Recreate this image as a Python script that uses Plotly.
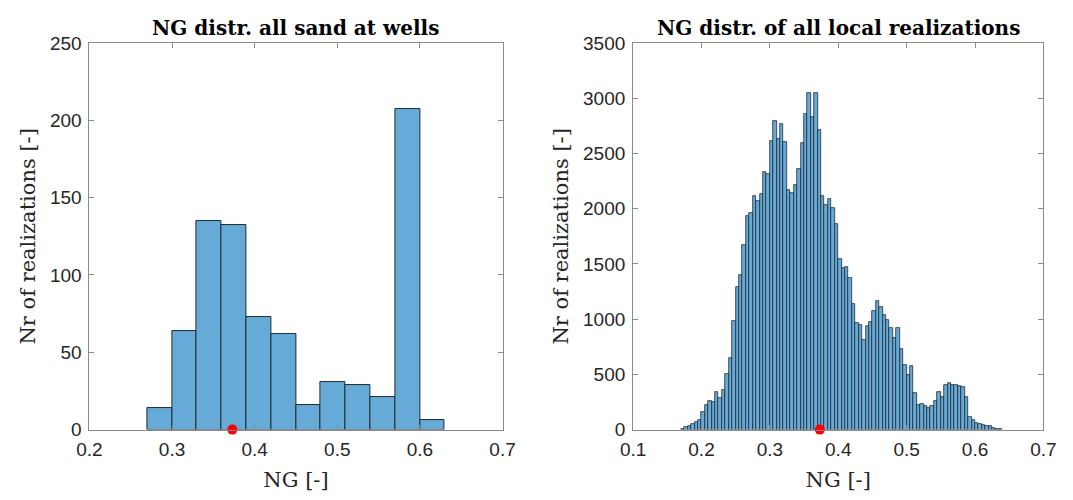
import plotly.graph_objects as go

# ---- data ----
# Left panel: NG distribution of all sand at wells
wells_bin_start = 0.27
wells_bin_width = 0.03
wells_counts = [14, 64, 135, 132, 73, 62, 16, 31, 29, 21, 207, 6]

# Right panel: NG distribution of all local realizations
local_bin_start = 0.17
local_bin_width = 0.005
local_counts = [
    6, 27, 33, 50, 72, 88, 158, 225, 260, 253,
    338, 286, 362, 505, 650, 981, 1291, 1395, 1667, 1936,
    1959, 2115, 2066, 2133, 2333, 2315, 2610, 2790, 2631, 2767,
    2602, 2168, 2139, 2214, 2362, 2599, 2854, 3045, 2827, 3050,
    2709, 2118, 2032, 2089, 2008, 1864, 1543, 1464, 1473, 1372,
    1137, 967, 943, 813, 935, 978, 1074, 1160, 1108, 1039,
    996, 917, 833, 923, 726, 587, 492, 579, 330, 226,
    234, 214, 197, 214, 260, 336, 295, 405, 423, 399,
    402, 396, 382, 292, 110, 84, 55, 52, 42, 30,
    33, 18, 8, 3,
]

ng_reference = 0.373

titles = ["NG distr. all sand at wells", "NG distr. of all local realizations"]
x_title = "NG [-]"
y_title = "Nr of realizations [-]"

# ---- derived bin centres ----
wells_x = [wells_bin_start + (i + 0.5) * wells_bin_width for i in range(len(wells_counts))]
local_x = [local_bin_start + (i + 0.5) * local_bin_width for i in range(len(local_counts))]

FILL = "#66aad7"
EDGE = "#1f2a33"
AXC = "#8a8a8a"
TXT = "#262626"
SANS = "Liberation Sans"
SERIF = "DejaVu Serif"

fig = go.Figure()
fig.add_trace(go.Bar(x=wells_x, y=wells_counts, width=wells_bin_width,
                     marker=dict(color=FILL, line=dict(color=EDGE, width=1)),
                     xaxis="x", yaxis="y", showlegend=False))
fig.add_trace(go.Scatter(x=[ng_reference], y=[0], mode="markers",
                         marker=dict(color="red", size=10), cliponaxis=False,
                         xaxis="x", yaxis="y", showlegend=False))
fig.add_trace(go.Bar(x=local_x, y=local_counts, width=local_bin_width,
                     marker=dict(color=FILL, line=dict(color=EDGE, width=0.8)),
                     xaxis="x2", yaxis="y2", showlegend=False))
fig.add_trace(go.Scatter(x=[ng_reference], y=[0], mode="markers",
                         marker=dict(color="red", size=10), cliponaxis=False,
                         xaxis="x2", yaxis="y2", showlegend=False))

W, H = 1073, 500
ydom = [1 - 438 / H, 1 - 34.5 / H]

common_axis = dict(showline=True, linecolor=AXC, linewidth=1, mirror="ticks",
                   ticks="inside", ticklen=5, tickcolor=AXC, showgrid=False,
                   zeroline=False, tickfont=dict(family=SANS, size=19, color=TXT))

xtitle_font = dict(family=SERIF, size=21, color=TXT)
ytitle_font = dict(family=SERIF, size=21, color=TXT)

fig.update_layout(
    width=W, height=H,
    margin=dict(l=0, r=0, t=0, b=0),
    paper_bgcolor="white", plot_bgcolor="white",
    bargap=0,
    xaxis=dict(domain=[78.3 / W, 501.7 / W], range=[0.2, 0.7], dtick=0.1, tick0=0.2,
               anchor="y", ticklabelstandoff=3,
               title=dict(text=x_title, font=xtitle_font, standoff=12),
               **common_axis),
    yaxis=dict(domain=ydom, range=[0, 250], dtick=50, anchor="x", ticklabelstandoff=3,
               title=dict(text=y_title, font=ytitle_font, standoff=8),
               **common_axis),
    xaxis2=dict(domain=[635.5 / W, 1056 / W], range=[0.1, 0.7], dtick=0.1, tick0=0.1,
                anchor="y2", ticklabelstandoff=3,
                title=dict(text=x_title, font=xtitle_font, standoff=12),
                **common_axis),
    yaxis2=dict(domain=ydom, range=[0, 3500], dtick=500, anchor="x2", ticklabelstandoff=3,
                title=dict(text=y_title, font=ytitle_font, standoff=8),
                **common_axis),
    annotations=[
        dict(text="<b>" + titles[0] + "</b>", x=290 / W, y=1 - 19 / H, xref="paper", yref="paper",
             showarrow=False, font=dict(family=SERIF, size=20, color="black"), xanchor="center", yanchor="middle"),
        dict(text="<b>" + titles[1] + "</b>", x=845.7 / W, y=1 - 19 / H, xref="paper", yref="paper",
             showarrow=False, font=dict(family=SERIF, size=20, color="black"), xanchor="center", yanchor="middle"),
    ],
)

fig.write_html("out.html")
